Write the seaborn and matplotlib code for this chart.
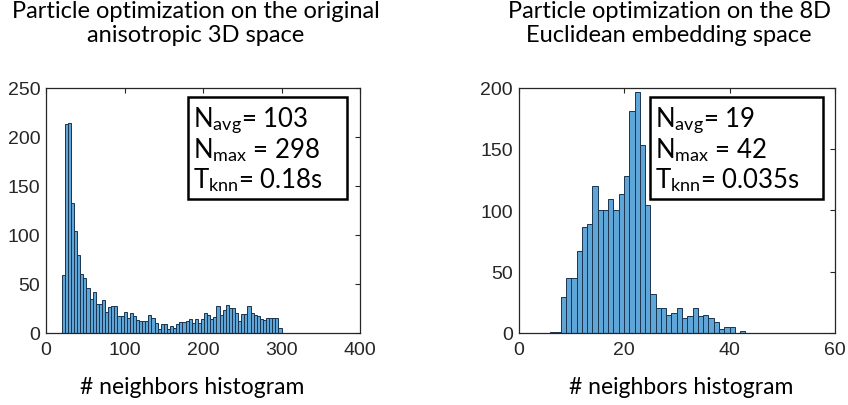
import numpy as np
import pandas as pd
import matplotlib
matplotlib.use("Agg")
import matplotlib.pyplot as plt
import seaborn as sns
from matplotlib.patches import Rectangle

# Neighbour counts per particle, optimisation in the original anisotropic 3D space
# (equal-width bins spanning orig_range)
orig_counts = [59, 213, 214, 132, 104, 79, 60, 56, 46, 35, 42, 30, 30, 34, 21, 26, 27, 27,
               17, 17, 21, 15, 20, 17, 13, 12, 12, 12, 18, 15, 10, 4, 9, 9,
               4, 7, 5, 9, 11, 11, 12, 14, 10, 14, 10, 14, 20, 18, 14, 16, 27, 18,
               23, 29, 25, 25, 20, 12, 19, 19, 27, 20, 18, 17, 14, 13, 15, 15, 15, 15, 5]
orig_range = (20, 300)

# Neighbour counts per particle, optimisation in the 8D Euclidean embedding space
# (unit-width bins starting at embed_start)
embed_counts = [1, 1, 29, 45, 45, 67, 86, 89, 120, 100, 100, 109, 100, 113, 128, 181, 196,
                153, 104, 32, 20, 20, 15, 16, 20, 12, 14, 20, 14, 15, 12, 9, 3, 5, 5, 0, 2]
embed_start = 6

orig_stats = ["103", "298", "0.18s"]
embed_stats = ["19", "42", "0.035s"]

titles = ["Particle optimization on the original\nanisotropic 3D space",
          "Particle optimization on the 8D\nEuclidean embedding space"]
xlabel_text = "# neighbors histogram"
orig_xticks = [0, 100, 200, 300, 400]
orig_yticks = [0, 50, 100, 150, 200, 250]
embed_xticks = [0, 20, 40, 60]
embed_yticks = [0, 50, 100, 150, 200]

FACE = "#5FA6D8"
EDGE = "#1B3550"
AXIS = "#262626"

sns.set_theme(style="white")
plt.rcParams["font.family"] = ["Liberation Sans", "DejaVu Sans"]
plt.rcParams["mathtext.fontset"] = "custom"
plt.rcParams["mathtext.rm"] = "Lato"
plt.rcParams["mathtext.it"] = "Lato:italic"
plt.rcParams["mathtext.bf"] = "Lato:bold"

W, H = 848, 406
fig = plt.figure(figsize=(W / 100, H / 100), dpi=100)


def px_axes(x0, x1, ytop, ybot):
    return fig.add_axes([x0 / W, 1 - ybot / H, (x1 - x0) / W, (ybot - ytop) / H])


def draw_hist(ax, counts, edges, xlim, ylim, xticks, yticks):
    centers = 0.5 * (edges[:-1] + edges[1:])
    df = pd.DataFrame({"neighbors": centers, "count": np.asarray(counts, dtype=float)})
    sns.histplot(data=df, x="neighbors", weights="count", bins=[float(e) for e in edges],
                 ax=ax, color=FACE, edgecolor=EDGE, linewidth=0.7, alpha=1.0)
    ax.set_xlim(*xlim)
    ax.set_ylim(*ylim)
    ax.set_xticks(xticks)
    ax.set_yticks(yticks)
    ax.set_xlabel("")
    ax.set_ylabel("")
    ax.tick_params(direction="in", length=3.5, width=0.8, top=True, right=True,
                   labelsize=14, colors=AXIS)
    ax.tick_params(axis="x", pad=6)
    ax.tick_params(axis="y", pad=4)
    for s in ax.spines.values():
        s.set_visible(True)
        s.set_color(AXIS)
        s.set_linewidth(0.9)


def stats_box(x0, x1, ytop, ybot, stats):
    fig.add_artist(Rectangle((x0 / W, 1 - ybot / H), (x1 - x0) / W, (ybot - ytop) / H,
                             transform=fig.transFigure, fill=False, lw=1.8, ec="black"))
    lines = [r"N$_{\mathrm{avg}}$= " + stats[0],
             r"N$_{\mathrm{max}}$ = " + stats[1],
             r"T$_{\mathrm{knn}}$= " + stats[2]]
    for i, s in enumerate(lines):
        fig.text((x0 + 5) / W, 1 - (ytop + 29.5 + 30.5 * i) / H, s, ha="left",
                 va="baseline", family="Lato", fontsize=18.5, color="black")


ax1 = px_axes(46, 360, 88.5, 334)
n1 = len(orig_counts)
edges1 = np.linspace(orig_range[0], orig_range[1], n1 + 1)
draw_hist(ax1, orig_counts, edges1, (0, 400), (0, 250), orig_xticks, orig_yticks)

ax2 = px_axes(518.5, 835, 88.5, 334)
edges2 = embed_start + np.arange(len(embed_counts) + 1, dtype=float)
draw_hist(ax2, embed_counts, edges2, (0, 60), (0, 200), embed_xticks, embed_yticks)

for cx, t in zip([196, 669], titles):
    fig.text(cx / W, 1 - 1 / H, t, ha="center", va="top", family="Lato",
             fontsize=17, linespacing=1.2, color="black")

for cx in [192, 681]:
    fig.text(cx / W, 1 - 394 / H, xlabel_text, ha="center", va="baseline",
             family="Lato", fontsize=16.5, color="black")

stats_box(188, 347, 98, 200, orig_stats)
stats_box(650, 823, 98, 200, embed_stats)

fig.savefig("out.png", dpi=100)
